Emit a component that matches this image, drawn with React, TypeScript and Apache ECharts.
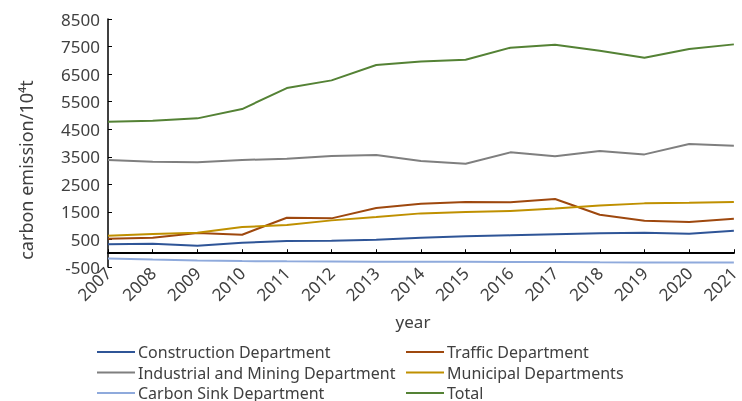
import React, { useEffect, useRef } from "react";
import * as echarts from "echarts";

const years = ["2007","2008","2009","2010","2011","2012","2013","2014","2015","2016","2017","2018","2019","2020","2021"];
const construction = [322, 346, 275, 382, 443, 455, 491, 563, 612, 648, 685, 721, 745, 709, 818];
const traffic = [527, 563, 733, 672, 1289, 1265, 1640, 1797, 1858, 1846, 1967, 1398, 1180, 1132, 1253];
const industrial = [3382, 3321, 3297, 3382, 3430, 3527, 3563, 3345, 3248, 3660, 3515, 3708, 3587, 3962, 3902];
const municipal = [636, 697, 745, 950, 1023, 1192, 1313, 1446, 1494, 1530, 1627, 1736, 1809, 1833, 1858];
const carbonSink = [-190, -230, -265, -285, -295, -300, -305, -310, -310, -315, -320, -330, -335, -335, -335];
const total = [4775, 4808, 4894, 5232, 5994, 6273, 6829, 6955, 7022, 7457, 7566, 7350, 7095, 7410, 7579];
const yTicks = [-500, 500, 1500, 2500, 3500, 4500, 5500, 6500, 7500, 8500];
const seriesNames = ["Construction Department", "Traffic Department", "Industrial and Mining Department", "Municipal Departments", "Carbon Sink Department", "Total"];
const seriesColors = ["#2F5597", "#9E480E", "#7F7F7F", "#BF9000", "#8FAADC", "#548235"];

const FONT = "Noto Sans";
const TXT = "#404040";

export default function App() {
  const ref = useRef<HTMLDivElement>(null);
  useEffect(() => {
    if (!ref.current) return;
    const chart = echarts.init(ref.current, undefined, { renderer: "svg" });
    const datasets = [construction, traffic, industrial, municipal, carbonSink, total];
    const series = seriesNames.map((name, i) => ({
      name,
      type: "line",
      data: datasets[i],
      xAxisIndex: 0,
      yAxisIndex: 0,
      symbol: "none",
      showSymbol: false,
      lineStyle: { width: 2, color: seriesColors[i] },
      itemStyle: { color: seriesColors[i] },
      smooth: false,
    }));
    const legends = seriesNames.map((name, i) => ({
      orient: "horizontal",
      icon: "rect",
      itemWidth: 38,
      itemHeight: 2,
      itemGap: 0,
      padding: 0,
      left: i % 2 === 0 ? 97 : 406,
      top: 342 + Math.floor(i / 2) * 20.5,
      data: [name],
      textStyle: { fontFamily: FONT, fontSize: 16, color: TXT, lineHeight: 20, padding: [0, 0, 0, -2] },
    }));
    chart.setOption({
      animation: false,
      textStyle: { fontFamily: FONT },
      grid: { left: 108, right: 5, top: 19, bottom: 134, containLabel: false },
      legend: legends,
      xAxis: [
        {
          type: "category",
          data: years,
          boundaryGap: false,
          position: "bottom",
          axisLine: { show: false, onZero: false },
          axisTick: { show: false },
          axisLabel: { rotate: 45, margin: 3, fontSize: 17, color: TXT, fontFamily: FONT, interval: 0 },
          splitLine: { show: false },
        },
        {
          type: "category",
          data: years,
          boundaryGap: false,
          position: "bottom",
          axisLine: { show: true, onZero: true, lineStyle: { color: "#000", width: 2 } },
          axisTick: { show: true, inside: true, length: 4, lineStyle: { color: "#000", width: 1 }, interval: 0 },
          axisLabel: { show: false },
          splitLine: { show: false },
        },
      ],
      yAxis: {
        type: "value",
        min: -500,
        max: 8500,
        axisLine: { show: true, lineStyle: { color: "#000", width: 1.5 } },
        axisTick: { show: true, inside: true, length: 4, lineStyle: { color: "#000", width: 1 }, customValues: yTicks },
        axisLabel: { fontSize: 17, color: TXT, fontFamily: FONT, margin: 8, customValues: yTicks, formatter: (v: number) => String(v) },
        splitLine: { show: false },
      },
      graphic: [
        {
          type: "text",
          x: 26,
          y: 170,
          rotation: Math.PI / 2,
          style: { text: "carbon emission/10⁴t", fontSize: 18, fontFamily: FONT, fill: TXT, align: "center", verticalAlign: "middle" },
        },
        {
          type: "text",
          x: 413,
          y: 321,
          style: { text: "year", fontSize: 17, fontFamily: FONT, fill: TXT, align: "center", verticalAlign: "middle" },
        },
      ],
      series,
    });
    return () => chart.dispose();
  }, []);
  return <div ref={ref} style={{ position: "fixed", left: 0, top: 0, width: 742, height: 401 }} />;
}
